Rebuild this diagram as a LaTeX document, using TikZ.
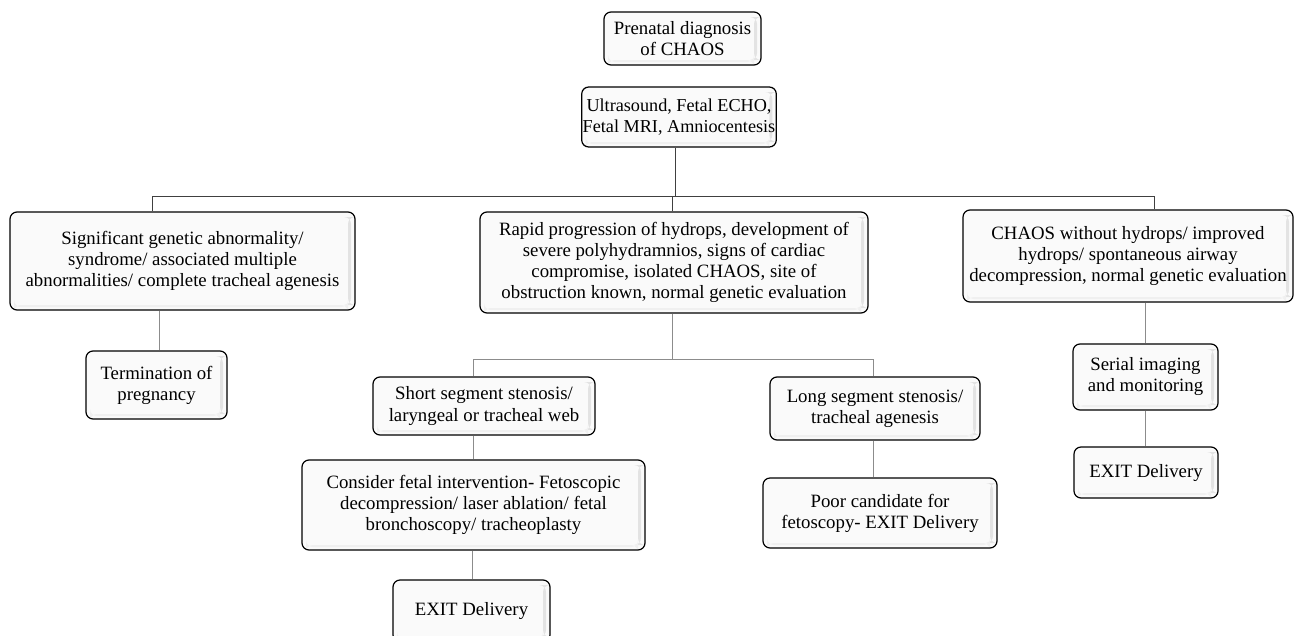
\documentclass[tikz,border=0pt]{standalone}
\usepackage{fontspec}
\setmainfont{Liberation Serif}
\usetikzlibrary{calc}
\newcommand{\boxfont}{\fontsize{18.8}{21}\selectfont}
\newcommand{\tightfont}{\fontsize{18.2}{21}\selectfont}
\begin{document}
\begin{tikzpicture}[x=1pt,y=-1pt,
  box/.style={draw=black, line width=1.2pt, rounded corners=7pt, fill=gray!4,
    align=center, font=\boxfont, inner sep=1pt,
    path picture={\fill[gray!22] ([xshift=-7pt,yshift=-5pt]path picture bounding box.north east) rectangle ([xshift=-4pt,yshift=5pt]path picture bounding box.south east);
      \fill[gray!12] ([xshift=4pt,yshift=5pt]path picture bounding box.south west) rectangle ([xshift=-7pt,yshift=3pt]path picture bounding box.south east);}},
  topline/.style={draw=black!75, line width=1pt},
  lowline/.style={draw=black!45, line width=0.8pt}]
\useasboundingbox (0,0) rectangle (1296,635);
\fill[white] (0,0) rectangle (1296,635);

\node[box, minimum width=157, minimum height=53] (b1) at (682.5,38.5) {Prenatal diagnosis\\of CHAOS};
\node[box, font=\tightfont, minimum width=194, minimum height=60] (b2) at (679,117) {Ultrasound, Fetal ECHO,\\Fetal MRI, Amniocentesis};
\node[box, minimum width=345, minimum height=98] (L) at (182.5,261) {Significant genetic abnormality/\\syndrome/ associated multiple\\abnormalities/ complete tracheal agenesis};
\node[box, minimum width=388, minimum height=101] (M) at (674,262.5) {Rapid progression of hydrops, development of\\severe polyhydramnios, signs of cardiac\\compromise, isolated CHAOS, site of\\obstruction known, normal genetic evaluation};
\node[box, minimum width=330, minimum height=92] (R) at (1128,256) {CHAOS without hydrops/ improved\\hydrops/ spontaneous airway\\decompression, normal genetic evaluation};
\node[box, minimum width=141, minimum height=68] (T) at (156.5,385) {Termination of\\pregnancy};
\node[box, minimum width=222, minimum height=58] (S) at (484,406) {Short segment stenosis/\\laryngeal or tracheal web};
\node[box, minimum width=343, minimum height=90] (C) at (473.5,505) {Consider fetal intervention- Fetoscopic\\decompression/ laser ablation/ fetal\\bronchoscopy/ tracheoplasty};
\node[box, minimum width=157, minimum height=62] (E1) at (471.5,611) {EXIT Delivery};
\node[box, minimum width=210, minimum height=63] (Lg) at (875,408.5) {Long segment stenosis/\\tracheal agenesis};
\node[box, minimum width=234, minimum height=70] (P) at (880,513) {Poor candidate for\\fetoscopy- EXIT Delivery};
\node[box, minimum width=145, minimum height=66] (SI) at (1145.5,377) {Serial imaging\\and monitoring};
\node[box, minimum width=144, minimum height=51] (E2) at (1146,472.5) {EXIT Delivery};

% top tier connectors
\coordinate (bus) at (675,196);
\draw[topline] ([xshift=-4pt]b2.south) -- (bus);
\draw[topline] (bus) -| ([xshift=-30.5pt]L.north);
\draw[topline] (bus) -| ([xshift=26pt]R.north);
\draw[topline] ([xshift=-2pt]M.north) -- ([xshift=-2pt]M.north |- bus);

% middle branch
\coordinate (mbus) at (672,359);
\draw[lowline] ([xshift=-2pt]M.south) -- (mbus);
\draw[lowline] (mbus) -| ([xshift=-11pt]S.north);
\draw[lowline] (mbus) -| ([xshift=-2pt]Lg.north);
\draw[lowline] ([xshift=-11pt]S.south) -- ([xshift=-0.5pt]C.north);
\draw[lowline] ([xshift=-1.5pt]C.south) -- ([xshift=0.5pt]E1.north);
\draw[lowline] ([xshift=-2pt]Lg.south) -- ([xshift=-7pt]P.north);

% left branch
\draw[lowline] ([xshift=-23.5pt]L.south) -- ([xshift=2.5pt]T.north);

% right branch
\draw[lowline] ([xshift=17pt]R.south) -- ([xshift=-0.5pt]SI.north);
\draw[lowline] ([xshift=-0.5pt]SI.south) -- ([xshift=-1pt]E2.north);
\end{tikzpicture}
\end{document}
